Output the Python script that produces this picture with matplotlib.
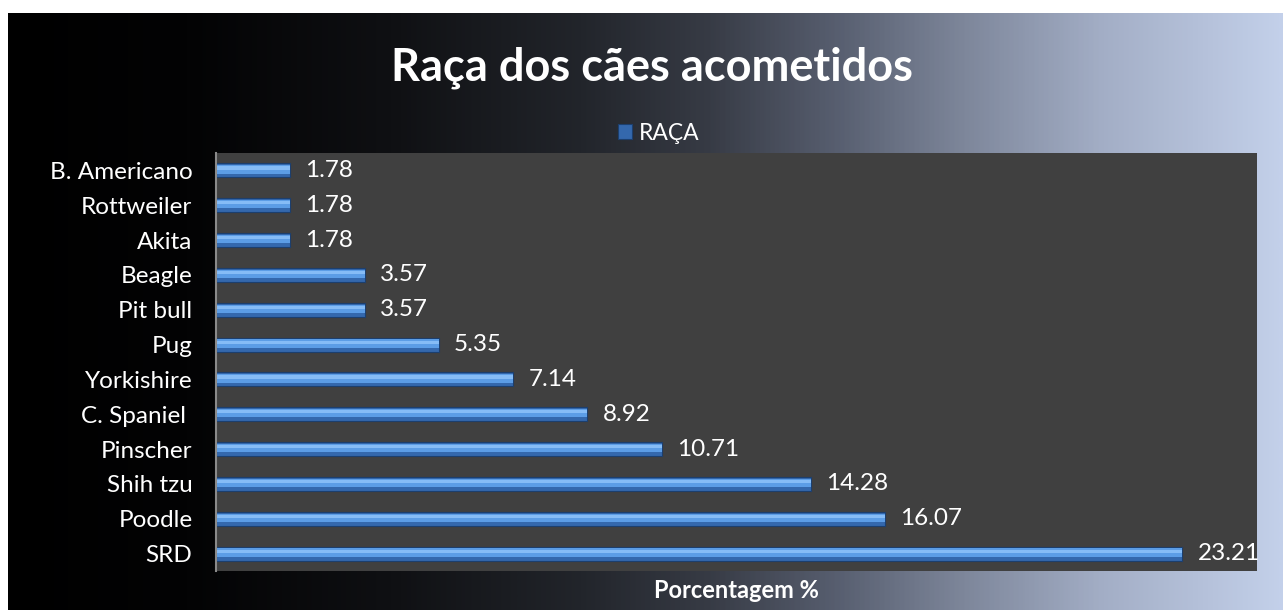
import numpy as np
import matplotlib.pyplot as plt
from matplotlib.colors import LinearSegmentedColormap

# chart data (top to bottom as shown)
racas = ['B. Americano', 'Rottweiler', 'Akita', 'Beagle', 'Pit bull', 'Pug',
         'Yorkishire', 'C. Spaniel ', 'Pinscher', 'Shih tzu', 'Poodle', 'SRD']
valores = [1.78, 1.78, 1.78, 3.57, 3.57, 5.35, 7.14, 8.92, 10.71, 14.28, 16.07, 23.21]

plt.rcParams['font.family'] = ['Lato', 'DejaVu Sans']

W, H = 1283, 610
fig = plt.figure(figsize=(W / 100, H / 100), dpi=100)
fig.patch.set_facecolor('white')

# gradient background of the chart area
bg = fig.add_axes([8 / W, 0, 1 - 8 / W, 1 - 13 / H])
cmap = LinearSegmentedColormap.from_list('bg', [
    (0.0, '#000000'), (0.14, '#030304'), (0.3, '#0f1013'), (0.45, '#22252b'),
    (0.55, '#373b45'), (0.65, '#575e6f'), (0.75, '#7d869a'), (0.86, '#a3aec6'),
    (1.0, '#c3d0ea')])
bg.imshow(np.linspace(0, 1, 512)[None, :], aspect='auto', cmap=cmap,
          extent=[0, 1, 0, 1])
bg.set_axis_off()

# plot area
x0, x1 = 216, 1257
y_top, y_bot = 153, 571
ax = fig.add_axes([x0 / W, 1 - y_bot / H, (x1 - x0) / W, (y_bot - y_top) / H])
ax.set_facecolor('#404040')

y = np.arange(len(racas))
ax.barh(y, valores, height=0.4, color='#3468ad', edgecolor='#1c3f6e', linewidth=0.8,
        label='RAÇA')
ax.barh(y - 0.03, valores, height=0.24, color='#5c9de6', linewidth=0)
ax.barh(y - 0.07, valores, height=0.09, color='#86bcf6', linewidth=0)

for yi, v in zip(y, valores):
    ax.annotate(f'{v:.2f}', (v, yi), xytext=(11, 0), textcoords='offset points',
                va='center', ha='left', color='white', fontsize=17.5)

ax.set_xlim(0, 25)
ax.set_ylim(len(racas) - 0.5, -0.5)
ax.set_yticks(y)
ax.set_yticklabels(racas, color='white', fontsize=17.5)
ax.tick_params(axis='y', length=0, pad=17)
ax.set_xticks([])
for s in ['top', 'right', 'bottom']:
    ax.spines[s].set_visible(False)
ax.spines['left'].set_color('#8a8a8a')
ax.spines['left'].set_linewidth(1.5)

ax.set_xlabel('Porcentagem %', color='white', fontsize=17, fontweight='bold',
              labelpad=6)

leg = ax.legend(loc='lower center', bbox_to_anchor=(0.425, 0.995), frameon=False,
                fontsize=16.5, handlelength=0.6, handleheight=0.6, handletextpad=0.3,
                borderaxespad=0.1)
for t in leg.get_texts():
    t.set_color('white')

fig.text(652 / W, 1 - 68 / H, 'Raça dos cães acometidos', color='white',
         fontsize=32.5, fontweight='bold', ha='center', va='center')

fig.savefig('out.png', dpi=100)
